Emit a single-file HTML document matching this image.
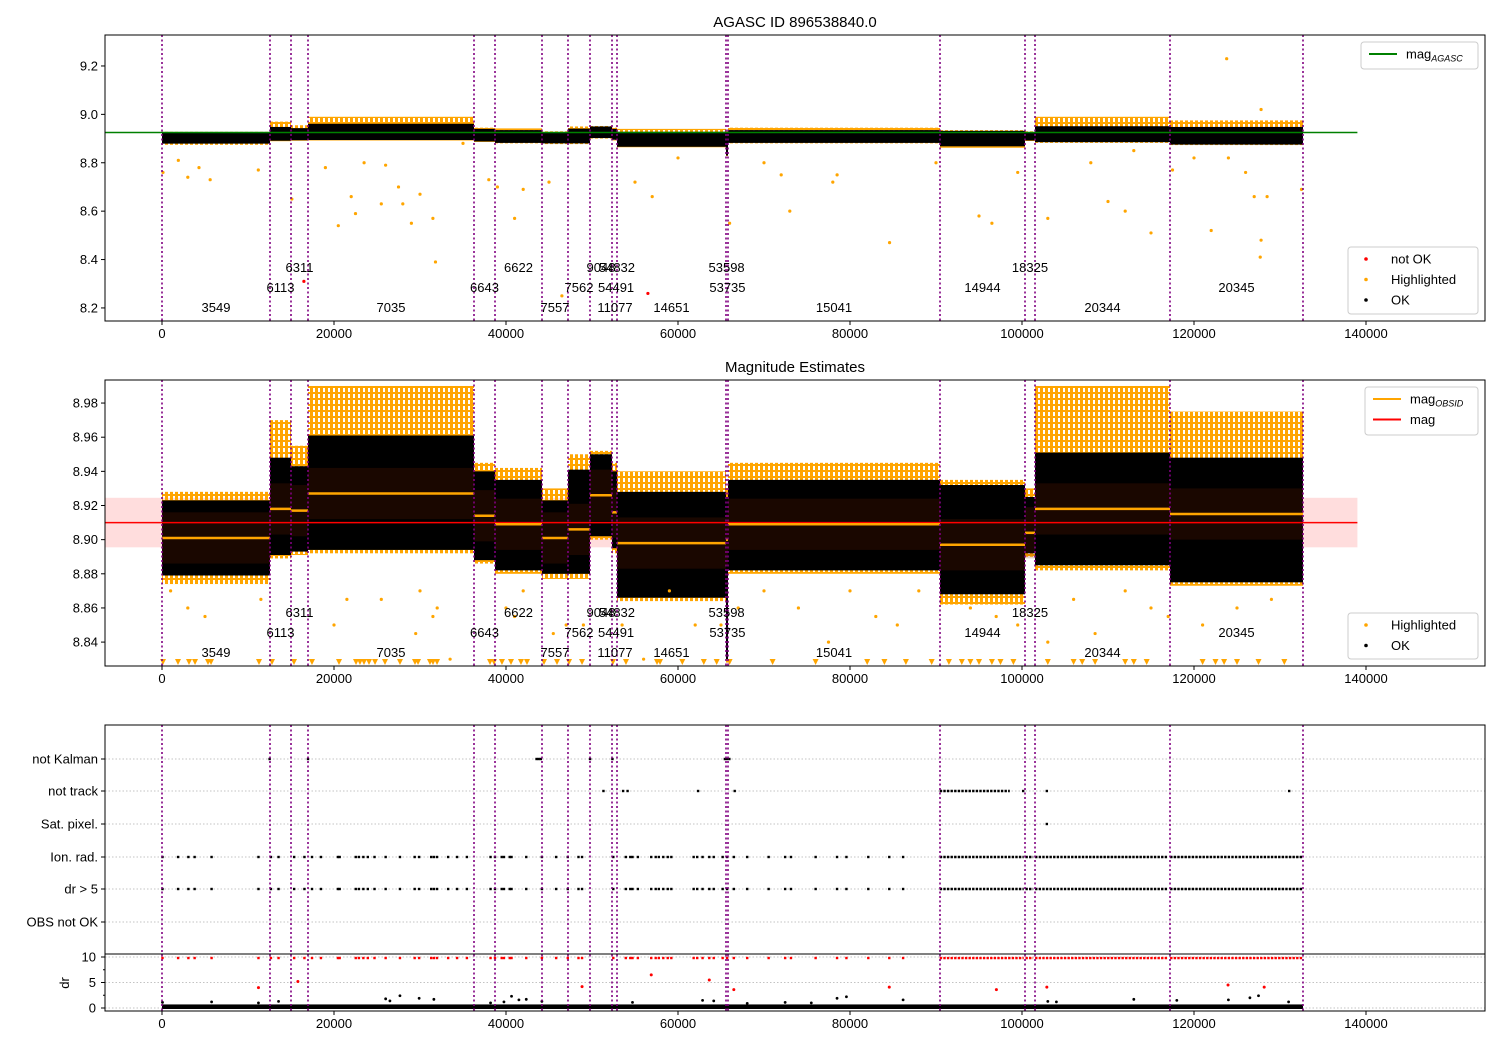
<!DOCTYPE html>
<html><head><meta charset="utf-8"><style>
body{margin:0;background:#fff}
svg text{font-family:"Liberation Sans","DejaVu Sans",sans-serif}
</style></head><body>
<svg id="chart" width="1500" height="1050" viewBox="0 0 1500 1050" xmlns="http://www.w3.org/2000/svg">
<rect x="0" y="0" width="1500" height="1050" fill="#fff"/>
</svg>
<script>
// ---- data ----
const segStarts=[0,12558,15000,16977,36279,38721,44186,47209,49767,52326,52907,65581,65814,90465,100349,101512,117209];
const segEnds=[12558,15000,16977,36279,38721,44186,47209,49767,52326,52907,65581,65814,90465,100349,101512,117209,132674];
const okLo=[8.879,8.891,8.893,8.894,8.888,8.882,8.880,8.880,8.902,8.895,8.866,8.830,8.882,8.868,8.892,8.885,8.875];
const okHi=[8.923,8.948,8.943,8.961,8.940,8.935,8.923,8.941,8.950,8.940,8.928,8.925,8.935,8.932,8.925,8.951,8.948];
const hlHi=[8.928,8.970,8.955,8.990,8.945,8.942,8.930,8.950,8.952,8.945,8.940,8.930,8.945,8.935,8.930,8.990,8.975];
const hlLo=[8.874,8.889,8.891,8.892,8.886,8.880,8.877,8.877,8.900,8.892,8.864,8.828,8.880,8.862,8.890,8.882,8.873];
const segMean=[8.901,8.918,8.917,8.927,8.914,8.909,8.901,8.906,8.926,8.916,8.898,8.900,8.909,8.897,8.904,8.918,8.915];
const vlines=[0,12558,15000,16977,36279,38721,44186,47209,49767,52326,52907,65581,65814,90465,100349,101512,117209,132674];
const obsids=["3549","6113","6311","7035","6643","6622","7557","7562","9048","11077","54491","54832","14651","53598","53735","15041","14944","18325","20344","20345"];
const obsidX=[6279,13779,15988,26628,37500,41453,45697,48488,51046,52670,52800,52900,59244,65650,65750,78140,95407,100930,109360,124940];
const obsidRow=[2,1,0,2,1,0,2,1,0,2,1,0,2,0,1,2,1,0,2,1];
const magAgasc=8.925;
const magMean=8.910, magStd=0.0145;
const xTicks=[0,20000,40000,60000,80000,100000,120000,140000];
const y1Ticks=[8.2,8.4,8.6,8.8,9.0,9.2];
const y2Ticks=[8.84,8.86,8.88,8.90,8.92,8.94,8.96,8.98];
const flagLabels=["not Kalman","not track","Sat. pixel.","Ion. rad.","dr > 5","OBS not OK"];
const drTicks=[0,5,10];
const out1X=[116,1900,3000,4300,5600,11200,15100,19000,20500,22000,22500,23500,25500,26000,27500,28000,29000,30000,31500,31800,35000,38000,39000,41000,42000,45000,46500,55000,57000,60000,66000,70000,72000,73000,78000,78500,84600,90000,95000,96500,99500,103000,108000,110000,112000,113000,115000,117500,120000,122000,124000,123800,126000,127000,127700,127800,127800,128500,132500];
const out1Y=[8.76,8.81,8.74,8.78,8.73,8.77,8.65,8.78,8.54,8.66,8.59,8.80,8.63,8.79,8.70,8.63,8.55,8.67,8.57,8.39,8.88,8.73,8.70,8.57,8.69,8.72,8.25,8.72,8.66,8.82,8.55,8.80,8.75,8.60,8.72,8.75,8.47,8.80,8.58,8.55,8.76,8.57,8.80,8.64,8.60,8.85,8.51,8.77,8.82,8.52,8.82,9.23,8.76,8.66,8.41,8.48,9.02,8.66,8.69];
const bad1X=[16500,56500];
const bad1Y=[8.31,8.26];
const out2X=[1000,3000,5000,11500,20000,21500,25500,29500,30000,31500,32000,33500,40000,41000,42000,45500,47000,49000,53500,56000,59000,62000,65000,67000,70000,74000,77500,80000,83000,85500,88000,94000,97000,99500,103000,106000,108500,112000,115000,117000,121000,125000,129000];
const out2Y=[8.87,8.86,8.855,8.865,8.85,8.865,8.865,8.845,8.87,8.855,8.86,8.83,8.86,8.855,8.87,8.845,8.85,8.85,8.85,8.83,8.87,8.85,8.85,8.86,8.87,8.86,8.84,8.87,8.855,8.85,8.87,8.86,8.855,8.85,8.84,8.865,8.845,8.87,8.86,8.855,8.85,8.86,8.865];
const triX=[116,1860,3140,3840,5350,5700,11280,12790,15350,17440,20580,22560,23020,23490,24070,24770,25930,27670,29420,29770,31160,31510,31980,38140,38600,39530,40580,41740,42440,44420,45930,47330,48840,52440,53950,57560,57910,60500,63000,64500,66000,71000,76000,82000,84000,86500,89500,91500,93000,94000,95000,96500,97500,99000,103000,106000,107000,108500,112000,113000,114500,121000,122500,123500,125000,127500,130500];
const ionX=[57,1874,3067,3794,5766,11216,12668,13551,15367,16561,17443,18481,20454,20661,22530,22893,23412,23931,24710,26006,27668,29381,29900,31301,31612,31976,33273,34311,35453,38204,38722,39501,39761,40435,40643,42356,44172,45833,47183,48428,48843,52476,53930,54449,54708,55331,56888,57407,57770,58289,58808,59224,61819,62234,62857,63636,64155,65193,65712,66490,68048,70539,72459,73134,76003,78494,79584,82127,84566,86175];
const ionDenseStart=[90430,100400,101520,117220];
const ionDenseEnd=[100200,101300,117000,132574];
const trackX=[51333,53618,54137,62338,66594,100136,102887,131068];
const trackDenseStart=[90430];
const trackDenseEnd=[98580];
const kalmanX=[12513,16976,43550,43800,44050,49777,52372,65450,65700,65970];
const satX=[102887];
const drRedX=[11216,15800,48843,56888,63636,66490,84566,97022,102887,123957,128162];
const drRedY=[4.0,5.2,4.2,6.5,5.5,3.6,4.1,3.6,4.1,4.5,4.1];
const drBlkX=[57,5766,11216,13551,26006,26500,27668,29900,31612,38204,39761,40643,41500,42356,44172,54708,62857,64155,68048,72459,75500,78494,79584,86175,103000,104000,113000,118000,124000,126500,127500,131000];
const drBlkY=[1.1,1.2,1.0,1.3,1.8,1.4,2.4,1.9,1.7,1.0,1.2,2.3,1.6,1.7,1.3,1.1,1.5,1.4,0.9,1.1,1.0,1.9,2.2,1.6,1.3,1.2,1.7,1.5,1.6,2.0,2.4,1.2];

// ---- scales ----
const X0=105,X1=1485,XMIN=-6628,XMAX=153837;
function sx(v){return X0+(v-XMIN)/(XMAX-XMIN)*(X1-X0);}
const P1={top:35,bot:321,min:8.146,max:9.328};
const P2={top:380,bot:666,min:8.826,max:8.9935};
function sy(p,v){return p.bot-(v-p.min)/(p.max-p.min)*(p.bot-p.top);}
const flagY=[759,791,824,857,889,922];
function sdr(v){return 1008-(v/10)*51;}

const svg=document.getElementById('chart');
const NS='http://www.w3.org/2000/svg';
function mk(tag,attrs,parent){const e=document.createElementNS(NS,tag);for(const k in attrs)e.setAttribute(k,attrs[k]);(parent||svg).appendChild(e);return e;}
function txt(s,x,y,attrs,parent){const e=mk('text',Object.assign({x:x,y:y,'font-size':13,fill:'#000'},attrs||{}),parent);e.textContent=s;return e;}

const defs=mk('defs',{});
[[1,P1.top,P1.bot],[2,P2.top,P2.bot],[3,725,1011]].forEach(c=>{const cp=mk('clipPath',{id:'clip'+c[0]},defs);mk('rect',{x:X0,y:c[1],width:X1-X0,height:c[2]-c[1]},cp);});
const pat=mk('pattern',{id:'hlpat',patternUnits:'userSpaceOnUse',width:5,height:6},defs);
mk('rect',{x:0,y:0,width:3,height:6,fill:'orange'},pat);
mk('rect',{x:3,y:2,width:2,height:2,fill:'orange'},pat);

function panel(idx){
  const g=mk('g',{'clip-path':'url(#clip'+idx+')'});
  
  
  return g;
}

// ===== Panel 1 =====
const g1=panel(1);
for(let i=0;i<segStarts.length;i++){
  const x=sx(segStarts[i]),w=sx(segEnds[i])-x;
  const h=mk('rect',{x:x,y:sy(P1,hlHi[i]),width:w,height:sy(P1,hlLo[i])-sy(P1,hlHi[i]),fill:'url(#hlpat)'},g1);
  
  
  const b=mk('rect',{x:x,y:sy(P1,okHi[i]),width:w,height:sy(P1,okLo[i])-sy(P1,okHi[i]),fill:'#000'},g1);
  
  
}
for(let i=0;i<out1X.length;i++){
  const c=mk('circle',{cx:sx(out1X[i]),cy:sy(P1,out1Y[i]),r:1.6,fill:'orange'},g1);
  
  
}
for(let i=0;i<bad1X.length;i++){
  const c=mk('circle',{cx:sx(bad1X[i]),cy:sy(P1,bad1Y[i]),r:1.6,fill:'red'},g1);
  
  
}
const ag=mk('line',{x1:sx(XMIN),x2:sx(139000),y1:sy(P1,magAgasc),y2:sy(P1,magAgasc),stroke:'green','stroke-width':1.5},g1);



// ===== Panel 2 =====
const g2=panel(2);
const pb=mk('rect',{x:sx(XMIN),y:sy(P2,magMean+magStd),width:sx(139000)-sx(XMIN),height:sy(P2,magMean-magStd)-sy(P2,magMean+magStd),fill:'#ffdddd'},g2);


for(let i=0;i<segStarts.length;i++){
  const x=sx(segStarts[i]),w=sx(segEnds[i])-x;
  const h=mk('rect',{x:x,y:sy(P2,hlHi[i]),width:w,height:sy(P2,hlLo[i])-sy(P2,hlHi[i]),fill:'url(#hlpat)'},g2);
  
  
  const b=mk('rect',{x:x,y:sy(P2,okHi[i]),width:w,height:sy(P2,okLo[i])-sy(P2,okHi[i]),fill:'#000'},g2);
  
  
  const s=mk('rect',{x:x,y:sy(P2,segMean[i]+0.015),width:w,height:sy(P2,segMean[i]-0.015)-sy(P2,segMean[i]+0.015),fill:'rgba(130,35,0,0.2)'},g2);
  
  
}
for(let i=0;i<out2X.length;i++){
  const c=mk('circle',{cx:sx(out2X[i]),cy:sy(P2,out2Y[i]),r:1.6,fill:'orange'},g2);
  
  
}
for(let i=0;i<triX.length;i++){
  const x=sx(triX[i]),y=662;
  const t=mk('polygon',{points:(x-3)+','+(y-3)+' '+(x+3)+','+(y-3)+' '+x+','+(y+3),fill:'orange'},g2);
  
  
}
const ml=mk('line',{x1:sx(XMIN),x2:sx(139000),y1:sy(P2,magMean),y2:sy(P2,magMean),stroke:'red','stroke-width':1.5},g2);


for(let i=0;i<segStarts.length;i++){
  const l=mk('line',{x1:sx(segStarts[i]),x2:sx(segEnds[i]),y1:sy(P2,segMean[i]),y2:sy(P2,segMean[i]),stroke:'orange','stroke-width':2.5},g2);
  
  
}

// ===== Panel 3 =====
const g3=panel(3);
flagY.forEach((y,i)=>{
  const l=mk('line',{x1:X0,x2:X1,y1:y,y2:y,stroke:'#b0b0b0','stroke-width':0.8,'stroke-dasharray':'1.5,2'},g3);
  
  
});
drTicks.forEach(v=>{
  const l=mk('line',{x1:X0,x2:X1,y1:sdr(v),y2:sdr(v),stroke:'#b0b0b0','stroke-width':0.8,'stroke-dasharray':'1.5,2'},g3);
  
  
});
function dots(xs,y,color,name){xs.forEach(v=>{const r=mk('rect',{x:sx(v)-1.2,y:y-1.2,width:2.4,height:2.4,fill:color},g3);});}
function dense(st,en,y,color,name){for(let i=0;i<st.length;i++){const l=mk('line',{x1:sx(st[i]),x2:sx(en[i]),y1:y,y2:y,stroke:color,'stroke-width':2.4,'stroke-dasharray':'2.4,1.2'},g3);}}
dots(kalmanX,flagY[0],'#000','not-kalman-point');
dots(trackX,flagY[1],'#000','not-track-point');
dense(trackDenseStart,trackDenseEnd,flagY[1],'#000','not-track-dense');
dots(satX,flagY[2],'#000','sat-pixel-point');
dots(ionX,flagY[3],'#000','ion-rad-point');
dense(ionDenseStart,ionDenseEnd,flagY[3],'#000','ion-rad-dense');
dots(ionX,flagY[4],'#000','dr-gt-5-point');
dense(ionDenseStart,ionDenseEnd,flagY[4],'#000','dr-gt-5-dense');
dots(ionX,sdr(9.8),'red','dr-clipped-point');
dense(ionDenseStart,ionDenseEnd,sdr(9.8),'red','dr-clipped-dense');
const drb=mk('rect',{x:sx(0),y:sdr(0.7),width:sx(132674)-sx(0),height:sdr(0)-sdr(0.7)+1,fill:'#000'},g3);


drRedX.forEach((v,i)=>{const c=mk('circle',{cx:sx(v),cy:sdr(drRedY[i]),r:1.5,fill:'red'},g3);});
drBlkX.forEach((v,i)=>{const c=mk('circle',{cx:sx(v),cy:sdr(drBlkY[i]),r:1.4,fill:'#000'},g3);});
const sep=mk('line',{x1:X0,x2:X1,y1:954,y2:954,stroke:'#000','stroke-width':1},g3);



[[g1,P1.top,P1.bot],[g2,P2.top,P2.bot],[g3,725,1011]].forEach(a=>{
  vlines.forEach(v=>{
    const l=mk('line',{x1:sx(v),x2:sx(v),y1:a[1],y2:a[2],stroke:'purple','stroke-width':1.6,'stroke-dasharray':'2,2.5'},a[0]);
    
    
  });
});

[[g1,[267,287,307]],[g2,[612,632,652]]].forEach(a=>{
  obsids.forEach((o,i)=>{
    const t=txt(o,sx(obsidX[i]),a[1][obsidRow[i]]+5,{'text-anchor':'middle'},a[0]);
    
    
  });
});

function frame(top,bot,name){const r=mk('rect',{x:X0,y:top,width:X1-X0,height:bot-top,fill:'none',stroke:'#000','stroke-width':1});}
frame(P1.top,P1.bot,'panel-1-frame');frame(P2.top,P2.bot,'panel-2-frame');frame(725,1011,'panel-3-frame');
[P1.bot,P2.bot,1011].forEach(b=>{
  xTicks.forEach((v,i)=>{
    mk('line',{x1:sx(v),x2:sx(v),y1:b,y2:b+4,stroke:'#000'});
    const t=txt(String(v),sx(v),b+17,{'text-anchor':'middle'});
    
    
  });
});
y1Ticks.forEach(v=>{mk('line',{x1:X0-4,x2:X0,y1:sy(P1,v),y2:sy(P1,v),stroke:'#000'});const t=txt(v.toFixed(1),X0-7,sy(P1,v)+4.5,{'text-anchor':'end'});});
y2Ticks.forEach(v=>{mk('line',{x1:X0-4,x2:X0,y1:sy(P2,v),y2:sy(P2,v),stroke:'#000'});const t=txt(v.toFixed(2),X0-7,sy(P2,v)+4.5,{'text-anchor':'end'});});
flagLabels.forEach((s,i)=>{mk('line',{x1:X0-4,x2:X0,y1:flagY[i],y2:flagY[i],stroke:'#000'});const t=txt(s,X0-7,flagY[i]+4.5,{'text-anchor':'end'});});
drTicks.forEach(v=>{mk('line',{x1:X0-4,x2:X0,y1:sdr(v),y2:sdr(v),stroke:'#000'});const t=txt(String(v),X0-9,sdr(v)+4.5,{'text-anchor':'end'});});
[2.5,7.5].forEach(v=>mk('line',{x1:X0-2,x2:X0,y1:sdr(v),y2:sdr(v),stroke:'#000'}));
const drl=txt('dr',69,983,{'text-anchor':'middle',transform:'rotate(-90 69 983)'});


const t1=txt('AGASC ID 896538840.0',795,27,{'text-anchor':'middle','font-size':15});


const t2=txt('Magnitude Estimates',795,372,{'text-anchor':'middle','font-size':15});



function legend(x,y,w,h,items,name){
  const g=mk('g',{});
  
  
  mk('rect',{x:x,y:y,width:w,height:h,rx:3,fill:'#fff','fill-opacity':0.85,stroke:'#ccc'},g);
  items.forEach((it,i)=>{
    const cy=y+12+i*20.5;
    if(it.t==='line')mk('line',{x1:x+8,x2:x+36,y1:cy,y2:cy,stroke:it.c,'stroke-width':2},g);
    else mk('circle',{cx:x+18,cy:cy,r:1.8,fill:it.c},g);
    const t=txt(it.l,x+(it.t==='line'?45:43),cy+4.5,{},g);
    if(it.sub){const s=mk('tspan',{'font-size':9,dy:3,'font-style':'italic'},t);s.textContent=it.sub;}
    
    
  });
}
legend(1361,42,117,27,[{t:'line',c:'green',l:'mag',sub:'AGASC'}],'legend-agasc');
legend(1348,247,130,67,[{t:'dot',c:'red',l:'not OK'},{t:'dot',c:'orange',l:'Highlighted'},{t:'dot',c:'#000',l:'OK'}],'legend-points-1');
legend(1365,387,113,48,[{t:'line',c:'orange',l:'mag',sub:'OBSID'},{t:'line',c:'red',l:'mag'}],'legend-mag');
legend(1348,613,130,46,[{t:'dot',c:'orange',l:'Highlighted'},{t:'dot',c:'#000',l:'OK'}],'legend-points-2');
</script>
</body></html>
